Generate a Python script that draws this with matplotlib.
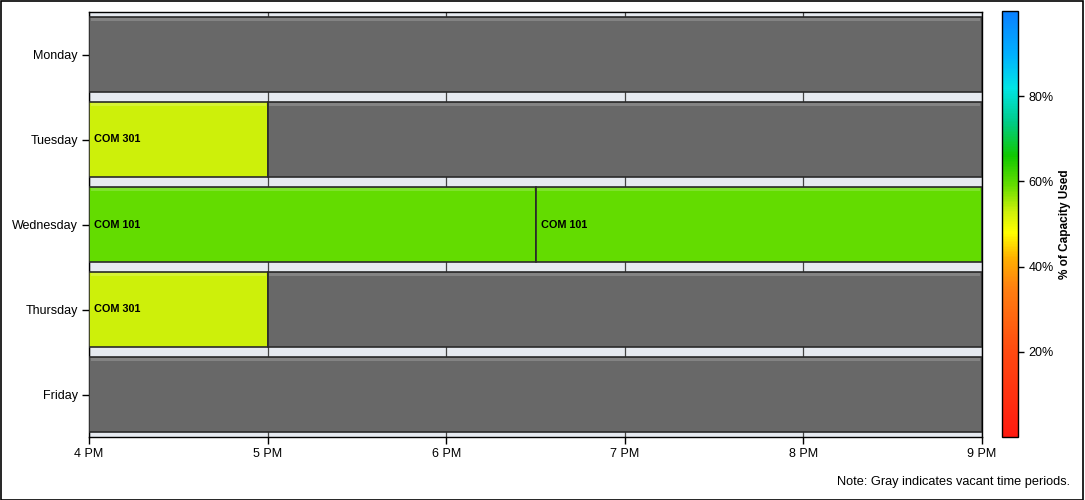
import matplotlib
matplotlib.use("Agg")
import matplotlib.pyplot as plt
import numpy as np
from matplotlib.colors import LinearSegmentedColormap, Normalize
from matplotlib.cm import ScalarMappable

plt.rcParams['font.family'] = ['Liberation Sans', 'DejaVu Sans']

days = ["Monday", "Tuesday", "Wednesday", "Thursday", "Friday"]
# sessions: (day, start hour, end hour, label, capacity % or None for vacant)
sess_day = ["Monday", "Tuesday", "Tuesday", "Wednesday", "Wednesday", "Thursday", "Thursday", "Friday"]
sess_start = [16, 16, 17, 16, 18.5, 16, 17, 16]
sess_end = [21, 17, 21, 18.5, 21, 17, 21, 21]
sess_label = ["", "COM 301", "", "COM 101", "COM 101", "COM 301", "", ""]
sess_cap = [None, 53, None, 59, 59, 53, None, None]
hour_ticks = [16, 17, 18, 19, 20, 21]
hour_labels = ["4 PM", "5 PM", "6 PM", "7 PM", "8 PM", "9 PM"]
cbar_ticks = [20, 40, 60, 80]
cbar_labels = ["20%", "40%", "60%", "80%"]

stops = [(0.0, '#FF1A10'), (0.2, '#FF4A10'), (0.35, '#FF8010'), (0.42, '#FFB000'),
         (0.48, '#FFFF00'), (0.53, '#CCF00A'), (0.59, '#66DD00'), (0.66, '#11C800'),
         (0.74, '#00CC88'), (0.82, '#00E5E5'), (0.9, '#00B0FF'), (1.0, '#0A80FF')]
cmap = LinearSegmentedColormap.from_list("cap", stops)
norm = Normalize(0, 100)

fig = plt.figure(figsize=(10.85, 5.0), dpi=100)
fig.patch.set_facecolor('white')
ax = fig.add_axes([89/1085, 1-437/500, (982-89)/1085, (437-12)/500])
ax.set_facecolor('#E6EAF0')

ypos = {d: i for i, d in enumerate(days)}
h = 0.88
for d, s, e, lab, cap in zip(sess_day, sess_start, sess_end, sess_label, sess_cap):
    y = ypos[d]
    col = '#686868' if cap is None else cmap(norm(cap))
    ax.barh(y, e - s, left=s, height=h, color=col, edgecolor='#2a2a2a', linewidth=1.2, zorder=3)
    # subtle top highlight
    ax.barh(y - h/2 + 0.03, e - s - 0.02, left=s + 0.01, height=0.03, color='white', alpha=0.18,
            linewidth=0, zorder=4)
    if lab:
        ax.text(s + 0.03, y, lab, fontsize=7.8, fontweight='bold', va='center', ha='left', zorder=5)

ax.set_xlim(16, 21)
ax.set_ylim(4.5, -0.5)
ax.set_xticks(hour_ticks)
ax.set_xticklabels(hour_labels, fontsize=9)
ax.set_yticks(range(len(days)))
ax.set_yticklabels(days, fontsize=9)
ax.tick_params(direction='out', length=5, width=1, pad=3)
ax.grid(axis='x', color='#444444', linewidth=0.9, zorder=1)
for sp in ax.spines.values():
    sp.set_linewidth(1.0)

cax = fig.add_axes([1002/1085, 1-437/500, 16/1085, (437-11)/500])
sm = ScalarMappable(norm=norm, cmap=cmap)
cb = fig.colorbar(sm, cax=cax)
cb.set_ticks(cbar_ticks)
cb.set_ticklabels(cbar_labels)
cb.ax.tick_params(labelsize=9, length=4, width=1)
cb.outline.set_linewidth(1.0)
cb.set_label('% of Capacity Used', fontsize=8.5, fontweight='bold', labelpad=4)

fig.text(1070/1085, 1-482/500, "Note: Gray indicates vacant time periods.", fontsize=9.2,
         ha='right', va='center')
fig.add_artist(plt.Rectangle((0.0005, 0.001), 0.998, 0.997, transform=fig.transFigure,
                             fill=False, edgecolor='black', linewidth=1.2))

fig.savefig("out.png", dpi=100)
